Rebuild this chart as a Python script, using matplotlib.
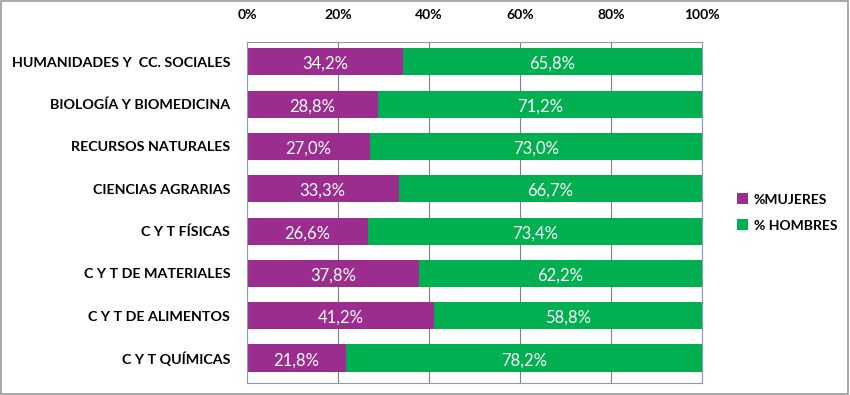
import matplotlib
matplotlib.use('Agg')
import matplotlib.pyplot as plt
from matplotlib.patches import Rectangle

plt.rcParams['font.family'] = ['Lato', 'DejaVu Sans']

areas = ['HUMANIDADES Y  CC. SOCIALES', 'BIOLOGÍA Y BIOMEDICINA', 'RECURSOS NATURALES',
         'CIENCIAS AGRARIAS', 'C Y T FÍSICAS', 'C Y T DE MATERIALES',
         'C Y T DE ALIMENTOS', 'C Y T QUÍMICAS']
mujeres = [34.2, 28.8, 27.0, 33.3, 26.6, 37.8, 41.2, 21.8]
hombres = [65.8, 71.2, 73.0, 66.7, 73.4, 62.2, 58.8, 78.2]
ticks = [0, 20, 40, 60, 80, 100]

purple = '#9B2D8E'
green = '#00B050'

fig = plt.figure(figsize=(8.5, 3.95), dpi=100)
fig.patches.append(Rectangle((0.001, 0.002), 0.997, 0.995, transform=fig.transFigure,
                             fill=False, edgecolor='#9a9a9a', linewidth=1.2))
ax = fig.add_axes([0.2906, 0.0304, 0.5353, 0.8633])

y = list(range(len(areas)))
b1 = ax.barh(y, mujeres, height=0.64, color=purple, label='%MUJERES', zorder=2)
b2 = ax.barh(y, hombres, left=mujeres, height=0.64, color=green, label='% HOMBRES', zorder=2)

for i in y:
    ax.text(mujeres[i] / 2, i + 0.05, f'{mujeres[i]:.1f}%'.replace('.', ','),
            ha='center', va='center', color='white', fontsize=12, zorder=3)
    ax.text(mujeres[i] + hombres[i] / 2, i + 0.05, f'{hombres[i]:.1f}%'.replace('.', ','),
            ha='center', va='center', color='white', fontsize=12, zorder=3)

ax.set_xlim(0, 100)
ax.set_ylim(len(areas) - 1 + 0.59, -0.47)
ax.set_xticks(ticks)
ax.set_xticklabels([f'{t}%' for t in ticks], fontsize=10, fontweight='bold')
ax.xaxis.tick_top()
ax.tick_params(axis='x', length=0, pad=15)
ax.tick_params(axis='y', length=0, pad=12)
ax.set_yticks(y)
ax.set_yticklabels(areas, fontsize=10.3, fontweight='bold')
ax.grid(axis='x', color='#808080', linewidth=0.8, zorder=1)
for s in ax.spines.values():
    s.set_color('#8a9ab0')
    s.set_linewidth(0.8)

leg = ax.legend(handles=[b1, b2], loc='center left', bbox_to_anchor=(1.05, 0.5), frameon=False,
                fontsize=10, handlelength=0.8, handleheight=0.8,
                handletextpad=0.4, labelspacing=1.0)
for t in leg.get_texts():
    t.set_fontweight('bold')

fig.savefig('out.png', dpi=100)
